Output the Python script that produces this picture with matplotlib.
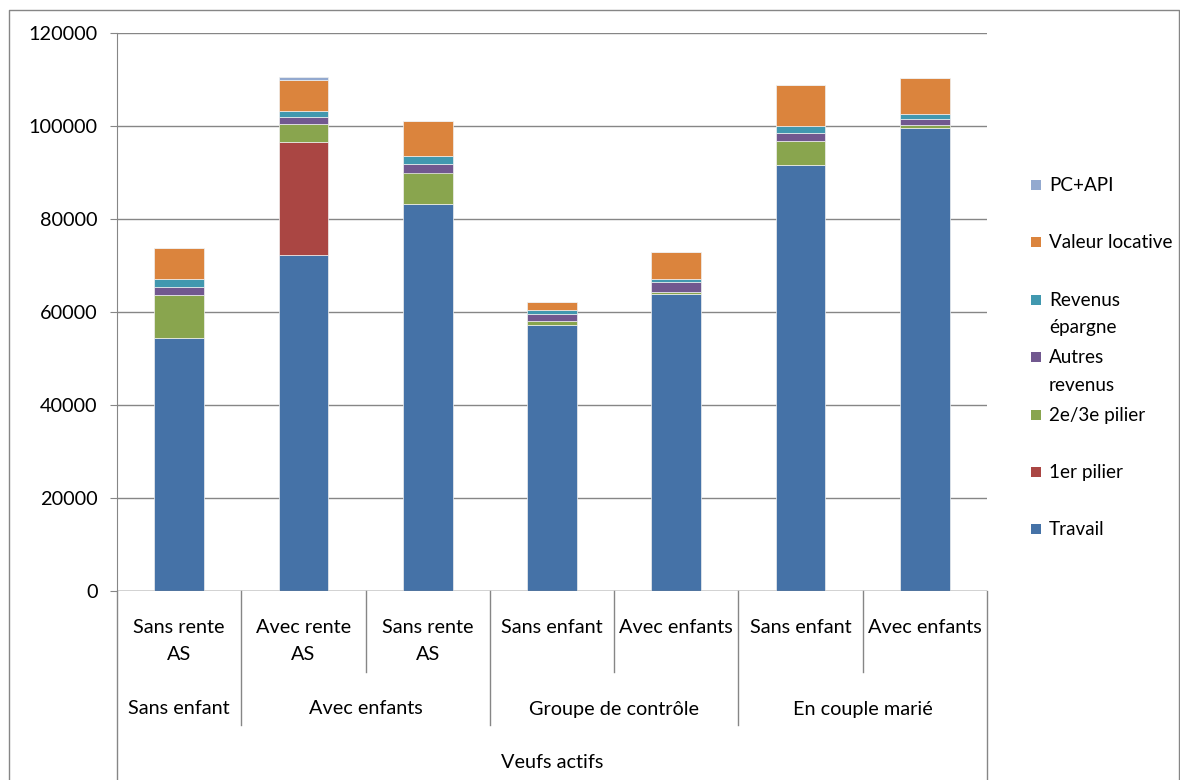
import matplotlib.pyplot as plt
import numpy as np
from matplotlib.patches import Rectangle
from matplotlib.lines import Line2D

plt.rcParams['font.family'] = ['Lato', 'DejaVu Sans']

# data
sub_labels = ['Sans rente\nAS', 'Avec rente\nAS', 'Sans rente\nAS',
              'Sans enfant', 'Avec enfants', 'Sans enfant', 'Avec enfants']
group_labels = ['Sans enfant', 'Avec enfants', 'Groupe de contrôle', 'En couple marié']
group_sizes = [1, 2, 2, 2]
top_label = 'Veufs actifs'

series_names = ['Travail', '1er pilier', '2e/3e pilier', 'Autres\nrevenus',
                'Revenus\népargne', 'Valeur locative', 'PC+API']
series_colors = ['#4572A7', '#AA4643', '#89A54E', '#71588F',
                 '#4198AF', '#DB843D', '#93A9CF']

travail = [54500, 72300, 83300, 57100, 63800, 91700, 99600]
pilier1 = [0, 24300, 0, 0, 0, 0, 0]
pilier23 = [9200, 3800, 6700, 900, 400, 5100, 600]
autres = [1700, 1500, 1800, 1600, 2200, 1800, 1400]
epargne = [1700, 1300, 1800, 800, 700, 1500, 1000]
locative = [6600, 6700, 7500, 1800, 5800, 8700, 7800]
pc_api = [0, 700, 0, 0, 0, 0, 0]
series_values = [travail, pilier1, pilier23, autres, epargne, locative, pc_api]

W, H = 1180, 780
fig = plt.figure(figsize=(W / 100, H / 100), dpi=100)
ax = fig.add_axes([117 / W, (H - 591) / H, 870 / W, 558 / H])

GRID = '#868686'
FS = 14.3

x = np.arange(len(sub_labels))
bottom = np.zeros(len(x))
for name, vals, col in zip(series_names, series_values, series_colors):
    vals = np.array(vals, dtype=float)
    ax.bar(x, vals, width=0.4, bottom=bottom, color=col,
           edgecolor='#f0f0f0', linewidth=0.5, zorder=3)
    bottom += vals

ax.set_xlim(-0.5, len(x) - 0.5)
ax.set_ylim(0, 120000)
ax.set_yticks(np.arange(0, 120001, 20000))
ax.yaxis.grid(True, color=GRID, linewidth=1)
ax.set_axisbelow(True)
ax.tick_params(axis='y', direction='out', length=5, color=GRID,
               labelsize=FS, pad=9)
ax.tick_params(axis='x', length=0, labelbottom=False)
for s in ['top', 'right', 'bottom']:
    ax.spines[s].set_visible(False)
ax.spines['left'].set_color(GRID)
ax.axhline(0, color=GRID, linewidth=1, zorder=4)

# hierarchical category axis
tr = ax.get_xaxis_transform()
def ay(px):
    return (591 - px) / 558.0

# separators
for b in np.arange(-0.5, len(x)):
    if b in (-0.5, len(x) - 0.5):
        end = 780
    elif b in (0.5, 2.5, 4.5):
        end = 725
    else:
        end = 672
    ax.add_line(Line2D([b, b], [0, ay(end)], transform=tr, color=GRID,
                       linewidth=1, clip_on=False))

for xi, lab in zip(x, sub_labels):
    ax.text(xi, ay(619), lab, transform=tr, ha='center', va='top',
            fontsize=FS, linespacing=1.75)

start = 0
for lab, n in zip(group_labels, group_sizes):
    ax.text(start + (n - 1) / 2, ay(709), lab, transform=tr, ha='center',
            va='center', fontsize=FS)
    start += n

ax.text((len(x) - 1) / 2, ay(763), top_label, transform=tr, ha='center',
        va='center', fontsize=FS)

# legend, reversed order as in the reference
for i, (name, col) in enumerate(zip(series_names[::-1], series_colors[::-1])):
    ypx = 185 + i * 57.4
    fig.patches.append(Rectangle((1031 / W, 1 - (ypx + 5) / H), 10 / W, 10 / H,
                                 transform=fig.transFigure, facecolor=col,
                                 edgecolor='none'))
    fig.text(1049 / W, 1 - (ypx - 8) / H, name, ha='left', va='top',
             fontsize=13.6, linespacing=1.75)

# chart border
fig.add_artist(Line2D([9 / W, 9 / W, 1179 / W, 1179 / W], [0, 1 - 10 / H, 1 - 10 / H, 0],
                      transform=fig.transFigure, color=GRID, linewidth=1))

fig.savefig('out.png', dpi=100, facecolor='white')
